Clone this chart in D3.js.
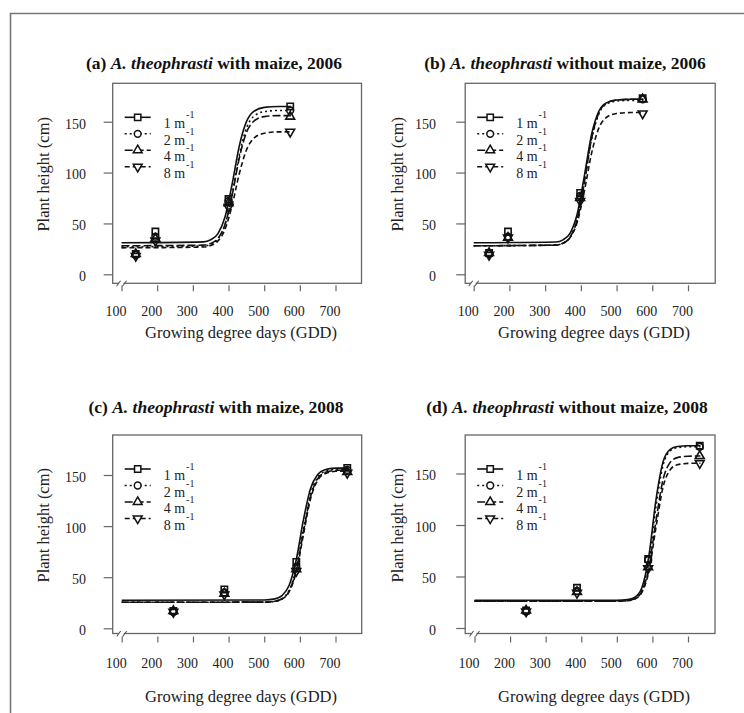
<!DOCTYPE html>
<html><head><meta charset="utf-8">
<script src="https://cdn.jsdelivr.net/npm/d3@7"></script>
<style>body{margin:0;background:#fff}svg{display:block}svg text{font-family:"Liberation Serif","DejaVu Serif","Times New Roman",serif}</style>
</head><body><svg id="c" width="744" height="713"></svg>
<script>
// ---------- data ----------
const densities = ["1 m", "2 m", "4 m", "8 m"];
const gddTicks = [100, 200, 300, 400, 500, 600, 700];
const heightTicks = [0, 50, 100, 150];
const panelLetters = ["(a)", "(b)", "(c)", "(d)"];
const panelConditions = [" with maize, 2006", " without maize, 2006", " with maize, 2008", " without maize, 2008"];

// observed means (GDD, plant height cm), one row per density
const obsGddA = [140, 195, 400, 573];
const obsHeightA = [[20, 42, 74, 165], [19, 37, 72, 161], [20, 35, 70, 155], [18, 33, 66, 140]];
const obsGddB = [143, 196, 398, 573];
const obsHeightB = [[21, 42, 80, 173], [20, 37, 77, 172], [21, 36, 75, 172], [19, 36, 72, 158]];
const obsGddC = [245, 388, 590, 733];
const obsHeightC = [[17, 38, 65, 157], [16, 35, 60, 155], [17, 34, 58, 153], [16, 33, 56, 152]];
const obsGddD = [245, 388, 588, 733];
const obsHeightD = [[17, 39, 67, 177], [16, 36, 66, 176], [17, 35, 59, 167], [16, 34, 58, 160]];

// fitted curves at these GDD values
const fitGdd2006 = [100, 330, 350, 370, 390, 410, 430, 450, 470, 500, 540, 575];
const fitHeightA = [
  [31, 31.9, 33.9, 39.8, 56, 88.3, 125.7, 149.8, 159.9, 164.1, 165, 165],
  [27, 27.8, 29.4, 34.5, 48.6, 78.6, 116.8, 143.3, 155, 159.9, 161, 161],
  [28, 28.7, 30.3, 35.2, 48.6, 77.3, 113.8, 139.1, 150.2, 155, 156, 156],
  [26, 26.8, 28.3, 32.6, 44.1, 67.5, 98.5, 121.9, 133.4, 138.6, 140, 140]];
const fitHeightB = [
  [31, 31.8, 33.9, 40.5, 59.5, 97.1, 137.5, 160, 168.3, 171.4, 172, 172],
  [28, 28.7, 30.6, 36.6, 54, 90.6, 132.5, 157.4, 166.9, 170.3, 171, 171],
  [28, 28.7, 30.6, 36.6, 54.2, 91.1, 133.3, 158.3, 167.8, 171.3, 172, 172],
  [28, 28.8, 30.6, 36.2, 51.3, 82.1, 118.9, 143.4, 153.8, 158.1, 159, 159]];
const fitGdd2008 = [100, 500, 530, 550, 570, 590, 610, 630, 650, 670, 700, 735];
const fitHeightC = [
  [27.5, 27.7, 28.8, 32, 42.1, 67.3, 106.2, 136.8, 150.5, 155.1, 156.7, 157],
  [25.5, 25.6, 26.5, 29.1, 37.2, 59, 96.9, 131, 147.7, 153.5, 155.6, 156],
  [25.5, 25.6, 26.5, 28.9, 36.5, 57.2, 94.3, 128.8, 146.2, 152.4, 154.5, 155],
  [25.5, 25.6, 26.4, 28.6, 35.8, 55.4, 91.7, 126.8, 144.8, 151.2, 153.6, 154]];
const fitHeightD = [
  [27, 27, 27.6, 29.7, 38.8, 69.8, 124.5, 161.4, 173.4, 176.2, 177, 177],
  [26, 26, 26.5, 28.3, 36.4, 64.1, 118, 158.2, 171.8, 175.1, 176, 176],
  [26, 26, 26.6, 28.4, 35.4, 58.4, 104, 144.2, 160.8, 165.4, 166.8, 167],
  [26, 26, 26.5, 28.1, 34.3, 54.9, 97.7, 137, 153.7, 158.4, 159.8, 160]];

// ---------- layout / style ----------
const dashes = [null, "2,3", "8,3", "5,3"];
const symbols = [d3.symbolSquare, d3.symbolCircle, d3.symbolTriangle, d3.symbolTriangle];
const symRot = [0, 0, 0, 180];
const symSize = [40, 36, 34, 34];

const layouts = [
  {box:{x0:112.7,x1:361.5,y0:83.3,y1:283.3}, xr:[121.5,335.5], yr:[274.3,121.7], tX:214, tY:69, xtX:241, xtY:338, xAxOff:2, xPad:14.8, yLabR:86, ytX:43},
  {box:{x0:465.2,x1:715.2,y0:83.3,y1:283.3}, xr:[473.7,688], yr:[274.3,121.7], tX:565, tY:69, xtX:594, xtY:338, xAxOff:2, xPad:14.8, yLabR:436, ytX:397},
  {box:{x0:112.7,x1:361.7,y0:435,y1:633.5}, xr:[121.7,335.5], yr:[628.3,475], tX:216, tY:413, xtX:241, xtY:702, xAxOff:3, xPad:16, yLabR:86, ytX:43},
  {box:{x0:465.2,x1:715,y0:435,y1:633.5}, xr:[474.5,688], yr:[628,473.5], tX:567, tY:413, xtX:594, xtY:702, xAxOff:3, xPad:16, yLabR:436, ytX:397}
];
const panelData = [
  {obsGdd: obsGddA, obs: obsHeightA, fitGdd: fitGdd2006, fit: fitHeightA},
  {obsGdd: obsGddB, obs: obsHeightB, fitGdd: fitGdd2006, fit: fitHeightB},
  {obsGdd: obsGddC, obs: obsHeightC, fitGdd: fitGdd2008, fit: fitHeightC},
  {obsGdd: obsGddD, obs: obsHeightD, fitGdd: fitGdd2008, fit: fitHeightD}
];

const svg = d3.select("#c");
svg.append("rect").attr("width", 744).attr("height", 713).attr("fill", "#fff");
// outer frame (top and left edges visible)
svg.append("path").attr("d", "M10.5,713 L10.5,13.5 L744,13.5")
  .attr("fill", "none").attr("stroke", "#777").attr("stroke-width", 1.6);

panelData.forEach((pd, pi) => {
  const L = layouts[pi], b = L.box;
  const x = d3.scaleLinear().domain([100, 700]).range(L.xr);
  const y = d3.scaleLinear().domain([0, 150]).range(L.yr);
  const g = svg.append("g");

  // title
  const t = g.append("text").attr("x", L.tX).attr("y", L.tY).attr("text-anchor", "middle")
    .attr("font-size", 17.5).attr("font-weight", "bold").attr("fill", "#111");
  t.append("tspan").text(panelLetters[pi] + " ");
  t.append("tspan").attr("font-style", "italic").text("A. theophrasti");
  t.append("tspan").text(panelConditions[pi]);

  // box
  g.append("rect").attr("x", b.x0).attr("y", b.y0).attr("width", b.x1 - b.x0).attr("height", b.y1 - b.y0)
    .attr("fill", "none").attr("stroke", "#666").attr("stroke-width", 1.3);

  // y axis
  const ya = g.append("g").attr("transform", `translate(${b.x0},0)`)
    .call(d3.axisLeft(y).tickValues(heightTicks).tickSize(9).tickPadding(b.x0 - L.yLabR - 9).tickFormat(d3.format("d")));
  ya.select(".domain").remove();
  ya.attr("font-family", null);
  ya.selectAll("line").attr("stroke", "#666").attr("stroke-width", 1.2);
  ya.selectAll("text").attr("font-size", 14).attr("fill", "#222").attr("dy", "0.45em");

  // x axis
  const xa = g.append("g").attr("transform", `translate(0,${b.y1 + L.xAxOff})`)
    .call(d3.axisBottom(x).tickValues(gddTicks).tickSize(6).tickPadding(L.xPad).tickFormat(d3.format("d")));
  xa.select(".domain").remove();
  xa.attr("font-family", null);
  xa.selectAll("line").attr("stroke", "#666").attr("stroke-width", 1.2);
  xa.selectAll("text").attr("font-size", 14).attr("fill", "#222").attr("dx", -6);

  // axis break on x axis near 100
  const bx = x(100);
  g.append("rect").attr("x", bx - 3).attr("y", b.y1 - 2).attr("width", 5).attr("height", 4).attr("fill", "#fff");
  g.append("path").attr("d", `M${bx-5},${b.y1+3} L${bx-1},${b.y1-2.5} M${bx+1},${b.y1+3} L${bx+5},${b.y1-2.5}`)
    .attr("stroke", "#555").attr("stroke-width", 1.1).attr("fill", "none");

  // axis titles
  g.append("text").attr("x", L.xtX).attr("y", L.xtY).attr("text-anchor", "middle")
    .attr("font-size", 16.5).attr("fill", "#222").text("Growing degree days (GDD)");
  const yc = (b.y0 + b.y1) / 2 - 9;
  g.append("text").attr("transform", `translate(${L.ytX},${yc}) rotate(-90)`).attr("text-anchor", "middle")
    .attr("dominant-baseline", "central")
    .attr("font-size", 16.5).attr("fill", "#222").text("Plant height (cm)");

  // fitted curves
  const line = d3.line().x(d => x(d[0])).y(d => y(d[1])).curve(d3.curveMonotoneX);
  pd.fit.forEach((vals, si) => {
    const pts = pd.fitGdd.map((gd, k) => [gd, vals[k]]);
    g.append("path").attr("d", line(pts)).attr("fill", "none").attr("stroke", "#111")
      .attr("stroke-width", 1.6).attr("stroke-dasharray", dashes[si]);
  });

  // observed points
  pd.obs.forEach((vals, si) => {
    const sym = d3.symbol().type(symbols[si]).size(symSize[si]);
    g.selectAll(null).data(pd.obsGdd.map((gd, k) => [gd, vals[k]])).enter().append("path")
      .attr("d", sym)
      .attr("transform", d => `translate(${x(d[0])},${y(d[1])}) rotate(${symRot[si]})`)
      .attr("fill", "none").attr("stroke", "#111").attr("stroke-width", 1.6);
  });

  // legend
  densities.forEach((lab, si) => {
    const ly = b.y0 + 34 + si * 16.5;
    const cx = b.x0 + 25;
    g.append("line").attr("x1", b.x0 + 12).attr("x2", b.x0 + 38).attr("y1", ly).attr("y2", ly)
      .attr("stroke", "#111").attr("stroke-width", 1.6).attr("stroke-dasharray", dashes[si]);
    g.append("path").attr("d", d3.symbol().type(symbols[si]).size(symSize[si]))
      .attr("transform", `translate(${cx},${ly}) rotate(${symRot[si]})`)
      .attr("fill", "#fff").attr("stroke", "#111").attr("stroke-width", 1.5);
    const tt = g.append("text").attr("x", b.x0 + 51).attr("y", ly + 11)
      .attr("font-size", 14).attr("fill", "#222");
    tt.append("tspan").text(lab);
    tt.append("tspan").attr("font-size", 10).attr("dx", 1).attr("dy", -10).text("-1");
  });
});
</script></body></html>
